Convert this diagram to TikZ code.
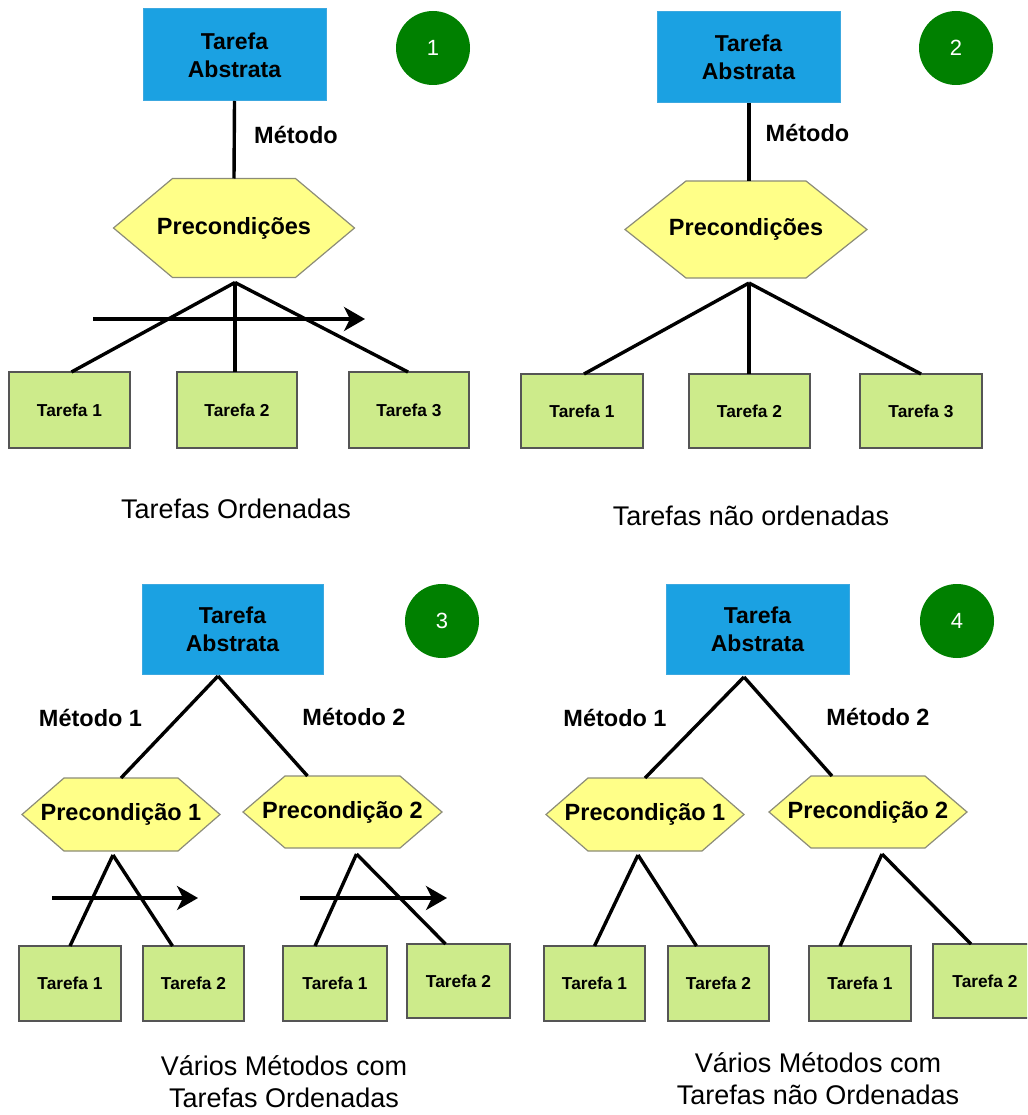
\documentclass[tikz,border=0pt]{standalone}
\usepackage{fontspec}
\setmainfont{Liberation Sans}
\usetikzlibrary{calc,backgrounds,arrows.meta}

\definecolor{absfill}{HTML}{1BA1E2}
\definecolor{absline}{HTML}{3CA8E0}
\definecolor{prefill}{HTML}{FFFF88}
\definecolor{preline}{HTML}{8C8C78}
\definecolor{taskfill}{HTML}{CDEB8B}
\definecolor{taskline}{HTML}{555555}
\definecolor{badgefill}{HTML}{008000}

\tikzset{
  abstract/.style={rectangle, fill=absfill, draw=absline, line width=1pt,
    inner sep=0pt, outer sep=0pt, align=center,
    font=\bfseries\fontsize{23}{28}\selectfont},
  precond/.style={rectangle, inner sep=0pt, outer sep=0pt,
    font=\bfseries\fontsize{23.5}{26}\selectfont},
  task/.style={rectangle, fill=taskfill, draw=taskline, line width=1.3pt,
    inner sep=0pt, outer sep=0pt, font=\bfseries\fontsize{17.3}{20}\selectfont},
  badge/.style={circle, fill=badgefill, minimum size=74pt, inner sep=0pt,
    text=white, font=\fontsize{22}{22}\selectfont},
  methodlabel/.style={font=\bfseries\fontsize{23.5}{26}\selectfont},
  caption/.style={align=center, font=\fontsize{27}{32}\selectfont},
  link/.style={line width=3.4pt, draw=black},
  order/.style={line width=3.4pt, -{Stealth[length=21pt,width=24pt,inset=6pt]}},
  hexline/.style={fill=prefill, draw=preline, line width=1.2pt, line join=miter}
}

% hexagon outline behind a precondition node: #1 node name, #2 slant inset
\newcommand\hexshape[2]{%
  \begin{scope}[on background layer]
    \path[hexline] (#1.west) -- ($(#1.north west)+(#2,0)$) -- ($(#1.north east)+(-#2,0)$)
      -- (#1.east) -- ($(#1.south east)+(-#2,0)$) -- ($(#1.south west)+(#2,0)$) -- cycle;
  \end{scope}}

\begin{document}
\begin{tikzpicture}[x=1pt, y=-1pt]
\useasboundingbox (0,0) rectangle (1027,1115);
\clip (0,0) rectangle (1027,1115);

% ---------- 1: ordered tasks ----------
\node[abstract, minimum width=183pt, minimum height=92pt] (abs1) at (234.5,55) {Tarefa\\Abstrata};
\node[badge] (c1) at (433,48) {1};
\node[methodlabel] (met1) at (296,135) {Método};
\node[precond, minimum width=241pt, minimum height=99pt] (pre1) at (234,228) {Precondições};
\hexshape{pre1}{59}
\coordinate (ap1) at ($(pre1.south)+(1,5)$);
\node[task, minimum width=121pt, minimum height=76pt] (t11) at (69.5,410) {Tarefa 1};
\node[task, minimum width=120pt, minimum height=76pt] (t12) at (237,410) {Tarefa 2};
\node[task, minimum width=120pt, minimum height=76pt] (t13) at (409,410) {Tarefa 3};
\draw[link] (abs1.south) -- (pre1.north);
\draw[link] (ap1) -- ($(t11.north)+(2,0)$);
\draw[link] (ap1) -- (ap1 |- t12.north);
\draw[link] (ap1) -- ($(t13.north)+(-1,0)$);
\coordinate (o1s) at (93,319);
\coordinate (o1e) at (365,319);
\draw[order] (o1s) -- (o1e);
\node[caption] (cap1) at (236,509) {Tarefas Ordenadas};

% ---------- 2: unordered tasks ----------
\node[abstract, minimum width=183pt, minimum height=91pt] (abs2) at (748.5,57.5) {Tarefa\\Abstrata};
\node[badge] (c2) at (956,48) {2};
\node[methodlabel] (met2) at (807.5,133) {Método};
\node[precond, minimum width=242pt, minimum height=97pt] (pre2) at (746,229.5) {Precondições};
\hexshape{pre2}{61}
\coordinate (ap2) at ($(pre2.south)+(3,5)$);
\node[task, minimum width=122pt, minimum height=74pt] (t21) at (582,411) {Tarefa 1};
\node[task, minimum width=121pt, minimum height=74pt] (t22) at (749.5,411) {Tarefa 2};
\node[task, minimum width=122pt, minimum height=74pt] (t23) at (921,411) {Tarefa 3};
\draw[link] (abs2.south -| ap2) -- (pre2.north -| ap2);
\draw[link] (ap2) -- ($(t21.north)+(2,0)$);
\draw[link] (ap2) -- (ap2 |- t22.north);
\draw[link] (ap2) -- (t23.north);
\node[caption] (cap2) at (751,516) {Tarefas não ordenadas};

% ---------- 3: several methods, ordered tasks ----------
\node[abstract, minimum width=181pt, minimum height=90pt] (abs3) at (232.5,629) {Tarefa\\Abstrata};
\node[badge] (c3) at (442,621) {3};
\coordinate (ap3) at (218,676);
\node[methodlabel] (m31) at (90.5,718) {Método 1};
\node[methodlabel] (m32) at (354,717) {Método 2};
\node[precond, minimum width=198pt, minimum height=73pt] (p31) at (121,814.5) {Precondição 1};
\hexshape{p31}{42}
\node[precond, minimum width=199pt, minimum height=72pt] (p32) at (342.5,812) {Precondição 2};
\hexshape{p32}{42}
\node[task, minimum width=102pt, minimum height=75pt] (t31) at (70,983.5) {Tarefa 1};
\node[task, minimum width=101pt, minimum height=75pt] (t32) at (193.5,983.5) {Tarefa 2};
\node[task, minimum width=104pt, minimum height=75pt] (t33) at (335,983.5) {Tarefa 1};
\node[task, minimum width=103pt, minimum height=74pt] (t34) at (458.5,981) {Tarefa 2};
\draw[link] (ap3) -- (p31.north);
\draw[link] (ap3) -- ($(p32.north)+(-35,0)$);
\coordinate (b31) at ($(p31.south)+(-8,4)$);
\coordinate (b32) at ($(p32.south)+(14,6)$);
\draw[link] (b31) -- (t31.north);
\draw[link] (b31) -- ($(t32.north)+(-21,0)$);
\draw[link] (b32) -- ($(t33.north)+(-20,0)$);
\draw[link] (b32) -- ($(t34.north)+(-13,0)$);
\coordinate (o31s) at (52,898);
\coordinate (o31e) at (198,898);
\coordinate (o32s) at (300,898);
\coordinate (o32e) at (447,898);
\draw[order] (o31s) -- (o31e);
\draw[order] (o32s) -- (o32e);
\node[caption] (cap3) at (284,1082) {Vários Métodos com\\Tarefas Ordenadas};

% ---------- 4: several methods, unordered tasks ----------
\node[abstract, minimum width=183pt, minimum height=90pt] (abs4) at (757.5,629) {Tarefa\\Abstrata};
\node[badge] (c4) at (957,621) {4};
\coordinate (ap4) at (744,677);
\node[methodlabel] (m41) at (615,718) {Método 1};
\node[methodlabel] (m42) at (878,717) {Método 2};
\node[precond, minimum width=198pt, minimum height=73pt] (p41) at (645,814.5) {Precondição 1};
\hexshape{p41}{42}
\node[precond, minimum width=198pt, minimum height=72pt] (p42) at (868,812) {Precondição 2};
\hexshape{p42}{42}
\node[task, minimum width=101pt, minimum height=75pt] (t41) at (594.5,983.5) {Tarefa 1};
\node[task, minimum width=101pt, minimum height=75pt] (t42) at (718.5,983.5) {Tarefa 2};
\node[task, minimum width=102pt, minimum height=75pt] (t43) at (860,983.5) {Tarefa 1};
\node[task, minimum width=104pt, minimum height=74pt] (t44) at (985,981) {Tarefa 2};
\draw[link] (ap4) -- (p41.north);
\draw[link] (ap4) -- ($(p42.north)+(-36,0)$);
\coordinate (b41) at ($(p41.south)+(-7,4)$);
\coordinate (b42) at ($(p42.south)+(14,6)$);
\draw[link] (b41) -- (t41.north);
\draw[link] (b41) -- ($(t42.north)+(-22,0)$);
\draw[link] (b42) -- ($(t43.north)+(-20,0)$);
\draw[link] (b42) -- ($(t44.north)+(-14,0)$);
\node[caption] (cap4) at (818,1079) {Vários Métodos com\\Tarefas não Ordenadas};
\end{tikzpicture}
\end{document}
